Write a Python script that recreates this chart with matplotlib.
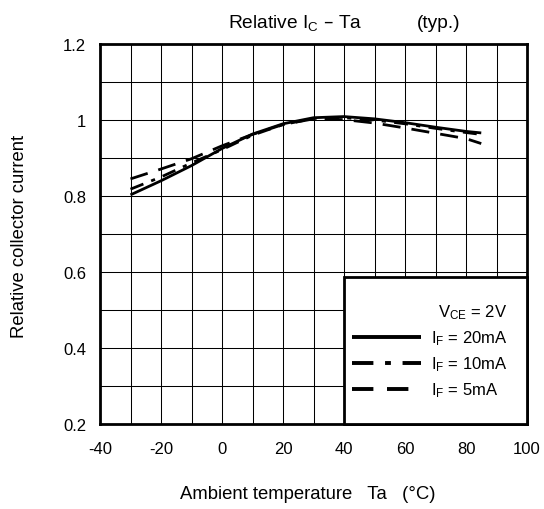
import matplotlib
matplotlib.use("Agg")
import matplotlib.pyplot as plt
from matplotlib.lines import Line2D
from matplotlib.patches import Rectangle

plt.rcParams['font.family'] = ['Liberation Sans', 'DejaVu Sans']
plt.rcParams['mathtext.default'] = 'regular'
plt.rcParams['axes.unicode_minus'] = False

# ---- data ----
temps = [-30, -20, -10, 0, 10, 20, 30, 40, 50, 60, 70, 80, 85]
ic_20mA = [0.803, 0.840, 0.880, 0.925, 0.963, 0.990, 1.006, 1.009, 1.003, 0.993, 0.981, 0.970, 0.966]
ic_10mA = [0.818, 0.850, 0.887, 0.922, 0.960, 0.988, 1.004, 1.006, 1.000, 0.990, 0.978, 0.967, 0.962]
ic_5mA = [0.845, 0.871, 0.898, 0.932, 0.962, 0.988, 1.003, 1.001, 0.992, 0.979, 0.965, 0.951, 0.938]
series_labels = ["I$_{F}$ = 20mA", "I$_{F}$ = 10mA", "I$_{F}$ = 5mA"]
x_ticks = [-40, -20, 0, 20, 40, 60, 80, 100]
y_ticks = [0.2, 0.4, 0.6, 0.8, 1.0, 1.2]
y_tick_labels = ["0.2", "0.4", "0.6", "0.8", "1", "1.2"]

fig = plt.figure(figsize=(5.44, 5.10), dpi=100)
ax = fig.add_axes([100/544, 1-425/510, 427/544, 380/510])

ax.set_xlim(-40, 100)
ax.set_ylim(0.2, 1.2)
ax.set_xticks(x_ticks)
ax.set_yticks(y_ticks)
ax.set_yticklabels(y_tick_labels)
ax.set_xticks(range(-40, 101, 10), minor=True)
ax.set_yticks([0.2 + 0.1*i for i in range(11)], minor=True)
ax.grid(True, which='both', color='black', linewidth=0.75, zorder=0)
ax.set_axisbelow(True)
ax.tick_params(which='both', length=0)
ax.tick_params(axis='x', pad=12, labelsize=12)
ax.tick_params(axis='y', pad=10, labelsize=12)
for s in ax.spines.values():
    s.set_linewidth(2.0)

ax.plot(temps, ic_20mA, color='black', lw=2.0, solid_capstyle='butt', zorder=3)
ax.plot(temps, ic_10mA, color='black', lw=2.0, dashes=(5, 3, 1.5, 3), dash_capstyle='butt', zorder=3)
ax.plot(temps, ic_5mA, color='black', lw=2.0, dashes=(6.5, 4), dash_capstyle='butt', zorder=3)

# legend box
ax.add_patch(Rectangle((40, 0.2), 60, 0.388, facecolor='white', edgecolor='black',
                       linewidth=2.0, zorder=4, clip_on=False))
handles = [
    Line2D([], [], color='black', lw=2.8, solid_capstyle='butt'),
    Line2D([], [], color='black', lw=2.8, dashes=(5.5, 3, 1.5, 3), dash_capstyle='butt'),
    Line2D([], [], color='black', lw=2.8, dashes=(5.5, 3.5), dash_capstyle='butt'),
]
leg = ax.legend(handles, series_labels, title="V$_{CE}$ = 2V", frameon=False,
                loc='lower right', bbox_to_anchor=(0.97, 0.047), borderaxespad=0,
                fontsize=12, title_fontsize=12, handlelength=4.15, handletextpad=0.6,
                labelspacing=0.45, alignment='right')
leg.set_zorder(5)

fig.text(180/544, 1-499/510, "Ambient temperature   Ta   (°C)", fontsize=13.3,
         ha='left', va='baseline')
fig.text(20/544, 1-236/510, "Relative collector current", fontsize=13.3,
         ha='center', va='center', rotation=90)

fig.text(227.5/544, 1-27.7/510, "Relative I$_{C}$ – Ta", fontsize=13.8, ha='left', va='baseline')
fig.text(416.5/544, 1-27.7/510, "(typ.)", fontsize=13.8, ha='left', va='baseline')

fig.savefig("out.png", dpi=100)
